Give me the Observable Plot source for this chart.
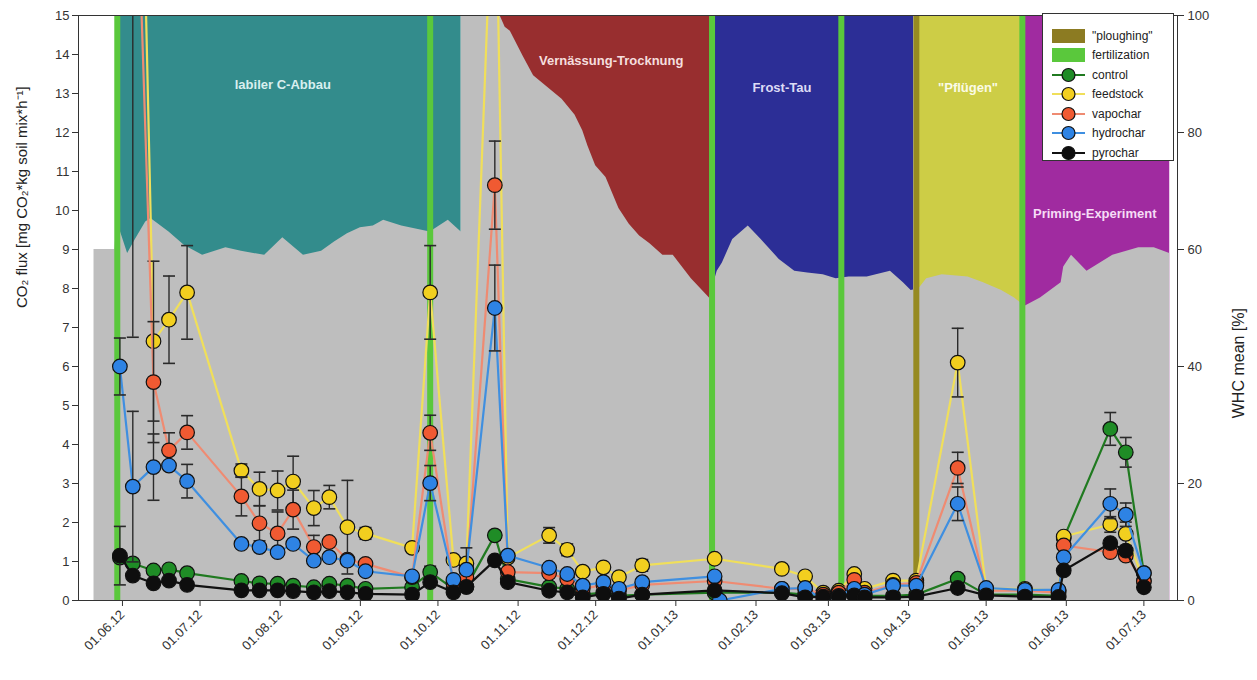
<!DOCTYPE html>
<html>
<head>
<meta charset="utf-8">
<script src="https://cdn.jsdelivr.net/npm/d3@7"></script>
<script src="https://cdn.jsdelivr.net/npm/@observablehq/plot@0.6"></script>
<style>
  body { margin: 0; background: #fff; font-family: "Liberation Sans", Arial, sans-serif; }
  #wrap { position: relative; width: 1257px; height: 680px; }
  #legend {
    position: absolute; left: 1042px; top: 13px; width: 132px; height: 148px;
    background: #fff; border: 1px solid #333; box-sizing: border-box;
    padding-top: 12px; font-size: 12px; color: #222;
  }
  #legend .row { display: flex; align-items: center; height: 19.5px; padding-left: 9px; }
  #legend svg { margin-right: 7px; flex: none; }
</style>
</head>
<body>
<div id="wrap"></div>
<script>
// ---- sampling dates and CO2 flux means (mg CO2 / kg soil mix / h) ----
const sampleDates = [
  "2012-05-31","2012-06-05","2012-06-13","2012-06-19","2012-06-26","2012-07-17","2012-07-24","2012-07-31","2012-08-06","2012-08-14",
  "2012-08-20","2012-08-27","2012-09-03","2012-09-21","2012-09-28","2012-10-07","2012-10-12","2012-10-23","2012-10-28","2012-11-13",
  "2012-11-20","2012-11-26","2012-12-04","2012-12-10","2012-12-19","2013-01-16","2013-01-18","2013-02-11","2013-02-20","2013-02-27",
  "2013-03-05","2013-03-11","2013-03-15","2013-03-26","2013-04-04","2013-04-20","2013-05-01","2013-05-16","2013-05-29","2013-05-31",
  "2013-06-18","2013-06-24","2013-07-01"
];
const control = [
  1.1,0.95,0.77,0.8,0.7,0.5,0.44,0.43,0.38,0.34,
  0.43,0.38,0.3,0.34,0.73,0.3,0.35,1.67,0.55,0.35,
  0.3,0.15,0.2,0.12,0.15,0.2,null,0.2,0.15,0.12,
  0.15,0.15,0.12,0.12,0.15,0.56,0.15,0.15,0.12,1.6,
  4.4,3.8,0.7
];
const feedstock = [
  null,30,6.65,7.2,7.9,3.33,2.86,2.82,3.05,2.37,
  2.65,1.88,1.72,1.35,7.9,1.04,0.95,20,1.1,1.67,
  1.3,0.74,0.85,0.6,0.9,1.07,null,0.81,0.62,0.2,
  0.25,0.68,0.3,0.51,0.51,6.1,0.3,0.3,0.25,1.64,
  1.95,1.71,0.5
];
const vapochar = [
  null,22,5.6,3.85,4.31,2.67,1.98,1.72,2.33,1.37,
  1.5,1.05,0.94,0.6,4.3,0.45,0.6,10.65,0.73,0.7,
  0.55,0.3,0.4,0.25,0.4,0.5,null,0.3,0.3,0.15,
  0.2,0.53,0.2,0.4,0.45,3.4,0.25,0.25,0.2,1.41,
  1.24,1.15,0.5
];
const hydrochar = [
  6.0,2.92,3.42,3.46,3.06,1.45,1.37,1.24,1.45,1.02,
  1.11,1.02,0.75,0.62,3.01,0.53,0.79,7.5,1.15,0.84,
  0.68,0.38,0.47,0.3,0.47,0.62,0.0,0.3,0.32,0.0,
  0.12,0.3,0.15,0.38,0.38,2.48,0.32,0.27,0.27,1.11,
  2.48,2.2,0.7
];
const pyrochar = [
  1.15,0.64,0.44,0.51,0.4,0.26,0.26,0.26,0.24,0.21,
  0.24,0.21,0.17,0.15,0.47,0.21,0.35,1.03,0.47,0.25,
  0.21,0.08,0.17,0.05,0.15,0.26,null,0.19,0.08,0.1,
  0.1,0.13,0.08,0.08,0.1,0.32,0.13,0.1,0.09,0.77,
  1.47,1.28,0.34
];

// ---- standard deviations (null = not shown) ----
const controlSd = [
  null,null,null,null,null,null,null,null,null,null,
  null,null,null,null,0.15,null,null,0.12,null,null,
  null,null,null,null,null,null,null,null,null,null,
  null,null,null,null,null,null,null,null,null,null,
  0.42,0.38,null
];
const feedstockSd = [
  null,null,2.05,1.12,1.2,0.17,0.43,0.5,0.65,0.45,
  0.3,1.2,0.15,null,1.2,null,null,null,null,0.2,
  0.15,null,null,null,0.15,null,null,null,null,null,
  null,null,null,null,null,0.88,null,null,null,null,
  0.2,0.3,null
];
const vapocharSd = [
  null,15.25,1.55,0.45,0.43,0.5,0.45,0.55,0.5,0.3,
  null,null,null,null,0.45,null,null,1.13,null,null,
  null,null,null,null,null,null,null,null,null,null,
  null,null,null,null,null,0.4,null,null,null,null,
  null,null,null
];
const hydrocharSd = [
  0.73,1.93,0.85,null,0.43,null,null,null,null,null,
  null,null,null,null,0.45,null,0.56,1.1,null,null,
  null,null,null,null,null,null,null,null,null,null,
  null,null,null,null,null,0.43,null,null,null,null,
  0.38,0.3,null
];
const pyrocharSd = [
  0.75,null,null,null,null,null,null,null,null,null,
  null,null,null,null,null,null,null,null,null,null,
  null,null,null,null,null,null,null,null,null,null,
  null,null,null,null,null,null,null,null,null,null,
  null,null,null
];

// ---- soil water holding capacity, mean (%) ----
const whcDates = [
  "2012-05-21","2012-05-29","2012-05-30","2012-06-03","2012-06-06","2012-06-10","2012-06-12","2012-06-19","2012-06-25","2012-07-02",
  "2012-07-11","2012-07-17","2012-07-26","2012-08-02","2012-08-10","2012-08-17","2012-08-22","2012-08-27","2012-09-01","2012-09-06",
  "2012-09-10","2012-09-17","2012-09-28","2012-10-05","2012-10-10","2012-10-10","2012-10-25","2012-10-27","2012-10-29","2012-11-03",
  "2012-11-07","2012-11-18","2012-11-23","2012-11-26","2012-11-28","2012-12-01","2012-12-05","2012-12-10","2012-12-14","2012-12-18",
  "2012-12-22","2012-12-27","2012-12-31","2013-01-07","2013-01-14","2013-01-17","2013-01-19","2013-01-23","2013-01-29","2013-02-03",
  "2013-02-10","2013-02-16","2013-02-21","2013-02-27","2013-03-04","2013-03-09","2013-03-16","2013-03-25","2013-03-30","2013-04-02",
  "2013-04-05","2013-04-08","2013-04-14","2013-04-24","2013-04-30","2013-05-07","2013-05-12","2013-05-16","2013-05-22","2013-05-30",
  "2013-05-31","2013-06-03","2013-06-09","2013-06-19","2013-06-29","2013-07-05","2013-07-11"
];
const whcValues = [
  60,60,64.7,59.3,61.7,64.7,65.3,63,60.7,59,
  60.3,59.7,59,62,59,59.7,61.3,62.7,63.7,64,
  65,64,63,65,63,100,100,98,97.3,93,
  89.7,85.7,83,80.3,77.7,74.3,72.3,67,64.3,62.3,
  61,59,59,55,51.7,56.3,57.7,61.7,64,61.7,
  58.3,56.3,56,55.7,55,55.3,55.3,56.3,54.3,53,
  53.3,55,55.7,55.3,54.3,53,51.7,50.3,51.7,54.3,
  57,59,56.3,59,60.3,60.3,59.3
];

// ---- experimental phases and events ----
const phaseNames  = ["labiler C-Abbau", "Vernässung-Trocknung", "Frost-Tau", "\"Pflügen\"", "Priming-Experiment"];
const phaseStarts = ["2012-05-30", "2012-10-25", "2013-01-15", "2013-04-05", "2013-05-15"];
const phaseEnds   = ["2012-10-10", "2013-01-15", "2013-04-03", "2013-05-15", "2013-07-11"];
const phaseLabelDates  = ["2012-08-02", "2012-12-07", "2013-02-11", "2013-04-24", "2013-06-12"];
const phaseLabelLevels = [13.23, 13.85, 13.15, 13.15, 9.92];
const fertilizationDates = ["2012-05-30", "2012-09-28", "2013-01-15", "2013-03-06", "2013-05-15"];
const ploughingDates = ["2013-04-04"];

const seriesNames = ["control", "feedstock", "vapochar", "hydrochar", "pyrochar"];
const whcTicks = [0, 20, 40, 60, 80, 100];
const monthTicks = [
  "2012-06-01","2012-07-01","2012-08-01","2012-09-01","2012-10-01","2012-11-01","2012-12-01",
  "2013-01-01","2013-02-01","2013-03-01","2013-04-01","2013-05-01","2013-06-01","2013-07-01"
];

// ---- styling ----
const phaseFill = {
  "labiler C-Abbau": "#338c8c",
  "Vernässung-Trocknung": "#982e2f",
  "Frost-Tau": "#2c2e96",
  "\"Pflügen\"": "#cdcd46",
  "Priming-Experiment": "#a02ba0"
};
const phaseText = {
  "labiler C-Abbau": "#d9efef",
  "Vernässung-Trocknung": "#f5dede",
  "Frost-Tau": "#dcdcf5",
  "\"Pflügen\"": "#fbfbe6",
  "Priming-Experiment": "#f6dcf6"
};
const seriesStyle = {
  control:   { fill: "#1f8c26", line: "#207a20" },
  feedstock: { fill: "#f2cf1f", line: "#f0df5a" },
  vapochar:  { fill: "#f05a32", line: "#ef8b72" },
  hydrochar: { fill: "#2e83e4", line: "#3f8fe0" },
  pyrochar:  { fill: "#0e0e0e", line: "#111111" }
};
const fertColor = "#5ac83c";
const ploughColor = "#968a22";
const whcColor = "#bebebe";

const parse = d3.utcParse("%Y-%m-%d");
const fluxMax = 15, whcMax = 100;
const whcToFlux = w => w * fluxMax / whcMax;

const seriesValues = { control, feedstock, vapochar, hydrochar, pyrochar };
const seriesSd = { control: controlSd, feedstock: feedstockSd, vapochar: vapocharSd, hydrochar: hydrocharSd, pyrochar: pyrocharSd };

const whc = whcDates.map((d, i) => ({ date: parse(d), whc: whcValues[i] }));
const phases = phaseNames.map((name, i) => ({
  name,
  start: parse(phaseStarts[i]),
  end: parse(phaseEnds[i]),
  labelDate: parse(phaseLabelDates[i]),
  labelLevel: phaseLabelLevels[i]
}));

// horizontal cap for error bars
const capSymbol = {
  draw(context, size) {
    const w = Math.sqrt(size / Math.PI);
    context.moveTo(-w, 0);
    context.lineTo(w, 0);
  }
};

const seriesMarks = [];
for (const name of seriesNames) {
  const st = seriesStyle[name];
  const rows = sampleDates
    .map((d, i) => ({ date: parse(d), v: seriesValues[name][i], sd: seriesSd[name][i] }))
    .filter(r => r.v != null);
  const bars = rows.filter(r => r.sd != null);
  seriesMarks.push(
    Plot.line(rows, { x: "date", y: "v", stroke: st.line, strokeWidth: 2.2, clip: true }),
    Plot.ruleX(bars, { x: "date", y1: r => Math.max(0, r.v - r.sd), y2: r => r.v + r.sd, stroke: "#2a2a2a", strokeWidth: 1.4, clip: true }),
    Plot.dot(bars, { x: "date", y: r => r.v + r.sd, symbol: capSymbol, r: 6, stroke: "#2a2a2a", strokeWidth: 1.6, fill: "none", clip: true }),
    Plot.dot(bars.filter(r => r.v - r.sd > 0), { x: "date", y: r => r.v - r.sd, symbol: capSymbol, r: 6, stroke: "#2a2a2a", strokeWidth: 1.6, fill: "none", clip: true }),
    Plot.dot(rows, { x: "date", y: "v", r: 7.3, fill: st.fill, stroke: "#111", strokeWidth: 1.2, clip: true })
  );
}

const chart = Plot.plot({
  width: 1257,
  height: 680,
  marginLeft: 78,
  marginRight: 80,
  marginTop: 15,
  marginBottom: 80,
  style: { fontFamily: "'Liberation Sans', Arial, sans-serif", fontSize: "13px", color: "#333", background: "transparent" },
  x: { type: "utc", domain: [parse("2012-05-15"), parse("2013-07-14")] },
  y: { domain: [0, fluxMax] },
  color: { type: "identity" },
  marks: [
    Plot.rect(phases, { x1: "start", x2: "end", y1: 0, y2: fluxMax, fill: d => phaseFill[d.name] }),
    // explicit baseline: no stacking, so the vertical step at 10.10.12 stays intact
    Plot.areaY(whc, { x: "date", y1: 0, y2: d => whcToFlux(d.whc), fill: whcColor, clip: true }),
    Plot.ruleX(fertilizationDates.map(parse), { stroke: fertColor, strokeWidth: 6 }),
    Plot.ruleX(ploughingDates.map(parse), { stroke: ploughColor, strokeWidth: 6 }),
    Plot.text(phases, { x: "labelDate", y: "labelLevel", text: "name", fill: d => phaseText[d.name], fontWeight: "bold", fontSize: 13 }),
    ...seriesMarks,
    Plot.frame({ stroke: "#333", strokeWidth: 1 }),
    Plot.axisY({ ticks: d3.range(0, fluxMax + 1), tickSize: 6, tickPadding: 3, fontSize: 13, label: null }),
    Plot.axisY({ anchor: "right", ticks: whcTicks.map(whcToFlux), tickFormat: d => String(Math.round(d * whcMax / fluxMax)), tickSize: 6, tickPadding: 4, fontSize: 13, label: null }),
    Plot.axisX({ ticks: monthTicks.map(parse), tickFormat: d3.utcFormat("%d.%m.%y"), tickRotate: -45, tickSize: 6, fontSize: 13, label: null }),
    Plot.text(["CO₂ flux [mg CO₂*kg soil mix*h⁻¹]"], { frameAnchor: "left", dx: -56, rotate: -90, fontSize: 15, fill: "#222" }),
    Plot.text(["WHC mean [%]"], { frameAnchor: "right", dx: 61, rotate: -90, fontSize: 16, fill: "#222" })
  ]
});

const wrap = document.getElementById("wrap");
wrap.appendChild(chart);

// legend
const legend = document.createElement("div");
legend.id = "legend";
const swatchRow = (label, color) =>
  `<div class="row"><svg width="33" height="14"><rect width="33" height="14" fill="${color}"/></svg><span>${label}</span></div>`;
const lineRow = (label, st) =>
  `<div class="row"><svg width="33" height="16"><line x1="0" x2="33" y1="8" y2="8" stroke="${st.line}" stroke-width="2.2"/><circle cx="16.5" cy="8" r="6.5" fill="${st.fill}" stroke="#111" stroke-width="1.2"/></svg><span>${label}</span></div>`;
legend.innerHTML =
  swatchRow("\"ploughing\"", "#8c7b22") +
  swatchRow("fertilization", fertColor) +
  seriesNames.map(n => lineRow(n, seriesStyle[n])).join("");
wrap.appendChild(legend);
</script>
</body>
</html>
